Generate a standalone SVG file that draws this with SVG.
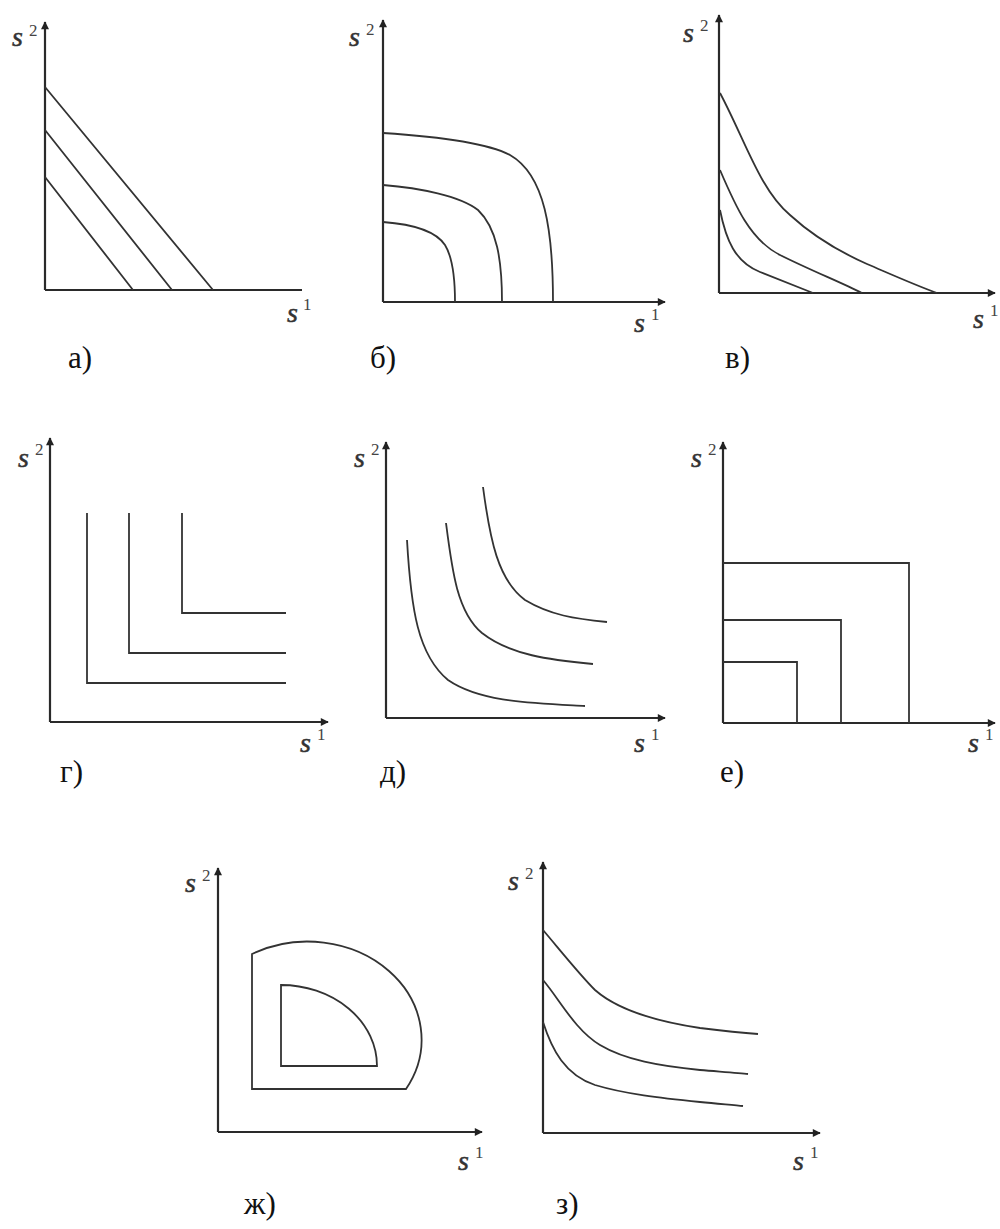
<svg xmlns="http://www.w3.org/2000/svg" width="1000" height="1229" viewBox="0 0 1000 1229">
<defs>
<marker id="arr" viewBox="0 0 10 10" refX="9" refY="5" markerWidth="10" markerHeight="8" markerUnits="userSpaceOnUse" orient="auto"><path d="M0,0 L10,5 L0,10 Z" fill="#222"/></marker>
</defs>
<style>
.ax{stroke:#2a2a2a;stroke-width:2.2;fill:none}
.c{stroke:#333;stroke-width:1.8;fill:none}
.s{font-family:'Liberation Serif','Times New Roman','DejaVu Serif',serif;font-style:italic;font-size:28px;fill:#333;stroke:#333;stroke-width:0.5}
.sup{font-family:'Liberation Serif','Times New Roman','DejaVu Serif',serif;font-size:17px;fill:#444}
.lb{font-family:'Liberation Serif','Times New Roman','DejaVu Serif',serif;font-size:31px;fill:#111}
</style>
<rect width="1000" height="1229" fill="#fff"/>

<g id="panel-a">
<path class="ax" d="M45,290 V22" marker-end="url(#arr)"/>
<path class="ax" d="M45,290 H302"/>
<text class="s" x="12" y="46">s</text><text class="sup" x="29" y="36">2</text>
<text class="s" x="287" y="322">s</text><text class="sup" x="303" y="310">1</text>
<path class="c" d="M45,87 L213,290 M45,130 L172,290 M45,177 L133,290"/>
<text class="lb" x="68" y="368">а)</text>
</g>

<g id="panel-b">
<path class="ax" d="M383,302 V20" marker-end="url(#arr)"/>
<path class="ax" d="M383,302 H665" marker-end="url(#arr)"/>
<text class="s" x="349" y="46">s</text><text class="sup" x="366" y="35">2</text>
<text class="s" x="634" y="332">s</text><text class="sup" x="651" y="320">1</text>
<path class="c" d="M383,133 C430,136 485,142 510,155 C545,175 553,230 553,302"/>
<path class="c" d="M383,185 C420,188 460,196 478,210 C497,228 502,260 502,302"/>
<path class="c" d="M383,222 C410,224 435,230 445,245 C453,258 455,280 455,302"/>
<text class="lb" x="370" y="368">б)</text>
</g>

<g id="panel-v">
<path class="ax" d="M719,293 V15" marker-end="url(#arr)"/>
<path class="ax" d="M719,293 H995" marker-end="url(#arr)"/>
<text class="s" x="683" y="42">s</text><text class="sup" x="700" y="31">2</text>
<text class="s" x="973" y="328">s</text><text class="sup" x="990" y="316">1</text>
<path class="c" d="M720,93 C745,140 760,190 790,215 C815,238 840,252 867,264 C895,276 915,285 937,293"/>
<path class="c" d="M720,170 C735,205 750,240 780,255 C810,270 840,282 862,293"/>
<path class="c" d="M720,210 C726,240 735,262 760,272 C780,280 800,288 813,293"/>
<text class="lb" x="725" y="368">в)</text>
</g>

<g id="panel-g">
<path class="ax" d="M50,722 V438" marker-end="url(#arr)"/>
<path class="ax" d="M50,722 H328" marker-end="url(#arr)"/>
<text class="s" x="18" y="467">s</text><text class="sup" x="35" y="455">2</text>
<text class="s" x="300" y="752">s</text><text class="sup" x="317" y="740">1</text>
<path class="c" d="M87,513 V683 H286 M129,513 V653 H286 M182,513 V613 H286"/>
<text class="lb" x="60" y="782">г)</text>
</g>

<g id="panel-d">
<path class="ax" d="M386,718 V442" marker-end="url(#arr)"/>
<path class="ax" d="M386,718 H665" marker-end="url(#arr)"/>
<text class="s" x="354" y="467">s</text><text class="sup" x="371" y="455">2</text>
<text class="s" x="634" y="752">s</text><text class="sup" x="651" y="740">1</text>
<path class="c" d="M407,540 C411,610 418,655 448,680 C480,702 530,703 585,706"/>
<path class="c" d="M446,523 C452,570 457,612 482,633 C510,655 550,660 593,664"/>
<path class="c" d="M483,487 C490,540 498,580 525,600 C550,615 575,619 607,622"/>
<text class="lb" x="380" y="782">д)</text>
</g>

<g id="panel-e">
<path class="ax" d="M723,723 V442" marker-end="url(#arr)"/>
<path class="ax" d="M723,723 H995" marker-end="url(#arr)"/>
<text class="s" x="691" y="467">s</text><text class="sup" x="708" y="455">2</text>
<text class="s" x="968" y="752">s</text><text class="sup" x="985" y="740">1</text>
<path class="c" d="M723,563 H909 V723 M723,620 H841 V723 M723,662 H797 V723"/>
<text class="lb" x="720" y="782">е)</text>
</g>

<g id="panel-zh">
<path class="ax" d="M218,1132 V868" marker-end="url(#arr)"/>
<path class="ax" d="M218,1132 H482" marker-end="url(#arr)"/>
<text class="s" x="185" y="892">s</text><text class="sup" x="202" y="881">2</text>
<text class="s" x="458" y="1170">s</text><text class="sup" x="475" y="1158">1</text>
<path class="c" d="M252,1089 L252,954 A114,98 0 0 1 406,1089 Z"/>
<path class="c" d="M281,1066 L281,985 A96,81 0 0 1 377,1066 Z"/>
<text class="lb" x="244" y="1214">ж)</text>
</g>

<g id="panel-z">
<path class="ax" d="M543,1133 V862" marker-end="url(#arr)"/>
<path class="ax" d="M543,1133 H820" marker-end="url(#arr)"/>
<text class="s" x="508" y="890">s</text><text class="sup" x="525" y="879">2</text>
<text class="s" x="793" y="1170">s</text><text class="sup" x="810" y="1158">1</text>
<path class="c" d="M543,930 C560,950 580,975 595,990 C620,1012 660,1022 700,1028 C725,1031 745,1033 758,1034"/>
<path class="c" d="M543,980 C560,1000 575,1030 600,1045 C625,1060 660,1066 700,1070 C725,1072 740,1073 748,1074"/>
<path class="c" d="M543,1022 C552,1050 565,1075 595,1085 C625,1094 660,1098 700,1102 C720,1104 735,1105 743,1106"/>
<text class="lb" x="556" y="1214">з)</text>
</g>
</svg>
